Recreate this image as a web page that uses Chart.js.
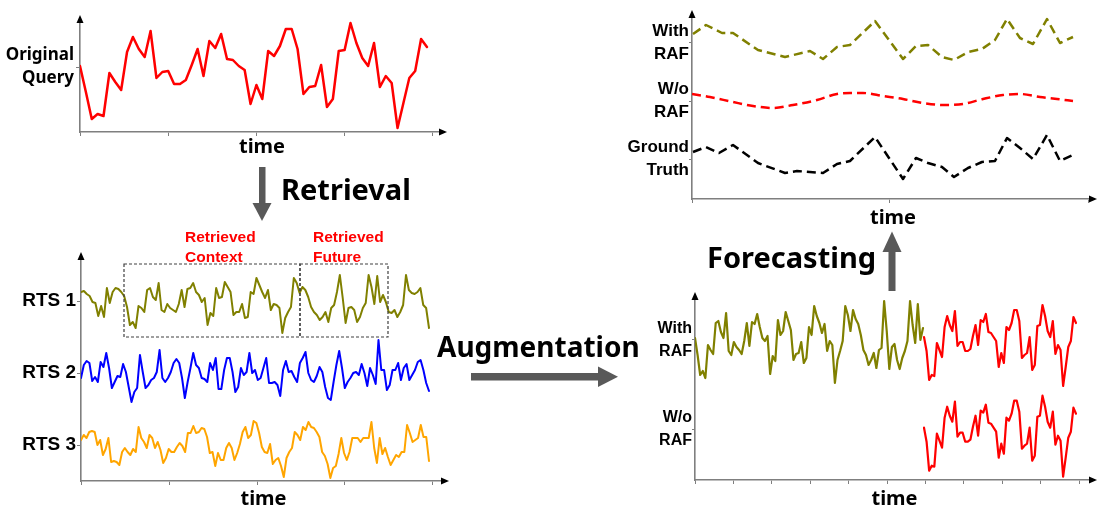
<!DOCTYPE html>
<html>
<head>
<meta charset="utf-8">
<script src="https://cdn.jsdelivr.net/npm/chart.js@4"></script>
<style>
body{margin:0;background:#fff;}
#wrap{position:relative;width:1098px;height:510px;overflow:hidden;font-family:"Noto Sans",sans-serif;}
canvas{position:absolute;}
svg{position:absolute;left:0;top:0;}
.big{position:absolute;font-weight:700;font-size:29px;line-height:29px;color:#000;white-space:nowrap;}
.red{position:absolute;font:700 15.5px "Liberation Sans",Arial,sans-serif;line-height:20px;color:#ff0000;white-space:nowrap;}
</style>
</head>
<body>
<div id="wrap">
  <canvas id="query" width="460" height="160" style="left:0;top:0"></canvas>
  <canvas id="rts" width="460" height="280" style="left:0;top:230px"></canvas>
  <canvas id="fcTop" width="498" height="230" style="left:600px;top:0"></canvas>
  <canvas id="fcBot" width="498" height="228" style="left:600px;top:282px"></canvas>

  <svg width="1098" height="510">
    <rect x="259" y="167" width="6.5" height="37" fill="#595959"/>
    <polygon points="252.5,203 271.5,203 262,221" fill="#595959"/>
    <rect x="471" y="373" width="128" height="7.5" fill="#595959"/>
    <polygon points="598,366.5 598,387 618,376.7" fill="#595959"/>
    <rect x="888.5" y="251" width="7" height="40" fill="#595959"/>
    <polygon points="882.5,252 901.5,252 892,231.5" fill="#595959"/>
  </svg>

  <div class="big" style="left:281px;top:174px">Retrieval</div>
  <div class="big" style="left:437px;top:332px;font-size:28px">Augmentation</div>
  <div class="big" style="left:707px;top:242px">Forecasting</div>
  <div class="red" style="left:185px;top:227px">Retrieved<br>Context</div>
  <div class="red" style="left:313px;top:227px">Retrieved<br>Future</div>
</div>

<script>
// ---- data (heights above the time axis) ----
const queryValues = [66, 40, 13, 18, 16, 59, 50, 42, 80, 95, 83, 75, 101, 54, 60, 61, 48, 48, 52, 67,
  83, 56, 91, 84, 98, 73, 72, 66, 62, 28, 47, 33, 81, 76, 86, 103, 103, 83, 38, 45,
  46, 67, 25, 33, 81, 82, 109, 89, 74, 66, 89, 45, 56, 49, 4, 29, 54, 61, 93, 85];

const rts1 = [189, 190, 187, 185, 179, 178, 165, 175, 164, 193, 178, 189, 193, 192, 189, 185, 174, 156, 159, 153,
  175, 173, 169, 191, 193, 184, 181, 198, 171, 169, 177, 173, 171, 169, 177, 191, 174, 192, 193, 198,
  189, 186, 179, 183, 156, 168, 165, 193, 183, 184, 199, 194, 189, 166, 169, 169, 177, 163, 164, 189, 187,
  203, 196, 189, 183, 191, 171, 177, 176, 173, 148, 163, 169, 174, 203, 198, 188, 194, 191, 184, 174,
  169, 166, 161, 164, 169, 159, 173, 176, 189, 206, 183, 158, 173, 174, 171, 159, 164, 173, 178, 206,
  194, 177, 205, 179, 186, 179, 169, 168, 171, 164, 169, 176, 206, 191, 188, 187, 189, 193, 176, 173, 153];
const rts2 = [103, 116, 120, 118, 100, 104, 99, 119, 114, 128, 113, 93, 99, 105, 104, 117, 109, 94, 79, 89,
  93, 126, 109, 93, 96, 101, 103, 109, 131, 103, 99, 103, 109, 118, 122, 118, 103, 83, 99, 113,
  128, 116, 113, 103, 102, 99, 118, 111, 123, 92, 92, 111, 123, 123, 109, 89, 94, 113, 106, 109, 128, 108,
  111, 101, 103, 113, 123, 98, 98, 99, 96, 85, 111, 120, 109, 110, 104, 99, 118, 123, 129, 108,
  101, 99, 105, 114, 109, 94, 83, 81, 99, 116, 130, 113, 93, 99, 103, 108, 109, 106, 117, 108,
  95, 113, 106, 97, 141, 111, 111, 91, 96, 111, 111, 118, 101, 113, 117, 101, 106, 111, 119, 121, 111, 98, 90];
const rts3 = [41, 46, 43, 49, 50, 49, 36, 41, 26, 32, 43, 19, 20, 19, 16, 29, 33, 29, 26, 32,
  29, 54, 43, 39, 33, 46, 43, 33, 39, 31, 18, 23, 32, 29, 29, 34, 38, 35, 29, 48,
  48, 55, 48, 49, 53, 52, 44, 28, 29, 15, 28, 21, 21, 33, 38, 33, 21, 28, 37, 49, 54, 43, 46, 60, 58,
  48, 34, 29, 28, 37, 17, 21, 23, 15, 4, 23, 29, 33, 49, 46, 41, 54, 51, 59, 54,
  53, 49, 44, 29, 25, 17, 3, 13, 15, 27, 43, 28, 21, 29, 43, 43, 43, 39, 43, 43,
  43, 59, 33, 18, 43, 27, 33, 24, 16, 21, 26, 24, 29, 29, 56, 48, 39, 41, 43, 56, 44, 44, 20];
// retrieved context / future windows: [t0, t1, low, high]
const retrievedBoxes = [[43, 219, 144, 217], [219, 307, 144, 217]];

const withRafT = [1, 14, 30, 41, 66, 93, 118, 131, 145, 158, 183, 211, 224, 236, 250, 262, 276, 290, 303, 315, 328, 341, 355, 368, 381];
const withRafV = [165, 174, 166, 166, 149, 142, 148, 140, 152, 154, 178, 140, 153, 154, 142, 139, 147, 150, 159, 180, 161, 155, 180, 156, 162];
const woRafT = [0, 18, 41, 61, 81, 101, 125, 145, 158, 171, 191, 211, 231, 251, 271, 291, 311, 328, 348, 365, 381];
const woRafV = [105, 102, 97, 93, 91, 94, 99, 105, 106, 106, 103, 100, 96, 94, 95, 100, 104, 105, 102, 100, 98];
const truthT = [1, 14, 27, 41, 66, 93, 105, 131, 145, 158, 183, 211, 224, 236, 250, 262, 276, 290, 303, 315, 328, 341, 355, 368, 381];
const truthV = [47, 52, 46, 54, 36, 26, 28, 26, 35, 38, 62, 20, 41, 36, 32, 22, 31, 37, 38, 61, 51, 40, 64, 38, 44];

const inputCtx = [142, 125, 105, 109, 102, 135, 130, 126, 157, 159, 148, 142, 167, 129, 125, 138, 133, 130, 126, 139,
  157, 134, 158, 156, 166, 153, 142, 139, 144, 106, 124, 119, 160, 145, 149, 168, 159, 150, 120, 126,
  127, 138, 117, 122, 153, 145, 174, 164, 157, 147, 156, 129, 139, 135, 97, 120, 129, 139, 174, 165,
  149, 170, 161, 156, 145, 130, 125, 115, 120, 127, 112, 130, 132, 179, 149, 111, 133, 136, 120, 111,
  122, 129, 139, 179, 155, 137, 176, 140, 152];
const forecast = [143, 129, 100, 105, 104, 137, 130, 123, 153, 164, 155, 149, 169, 134, 138, 138, 129, 129, 131, 144,
  155, 135, 160, 158, 166, 148, 147, 143, 139, 113, 127, 117, 153, 150, 157, 170, 170, 159, 122, 125,
  127, 143, 110, 115, 154, 155, 175, 164, 149, 143, 159, 126, 135, 130, 94, 113, 133, 139, 163, 157];

const queryLabels = [["Original", "Query"]];
const rtsLabels = ["RTS 1", "RTS 2", "RTS 3"];
const topLabels = [["With", "RAF"], ["W/o", "RAF"], ["Ground", "Truth"]];
const botLabels = [["With", "RAF"], ["W/o", "RAF"]];

// ---- helpers ----
const AXIS = "#7f7f7f";
const OLIVE = "#808000", RED = "#ff0000", BLUE = "#0000ff", ORANGE = "#ffa500";

function spread(vals, t0, t1){
  return vals.map((v, i) => ({x: t0 + (t1 - t0) * i / (vals.length - 1), y: v}));
}
function pair(ts, vals){
  return vals.map((v, i) => ({x: ts[i], y: v}));
}
function line(data, color, extra){
  return Object.assign({data, borderColor: color, borderWidth: 2, pointRadius: 0, fill: false,
    borderJoinStyle: "round", borderCapStyle: "round", tension: 0}, extra || {});
}

const arrowHeads = {
  id: "arrowHeads",
  afterDraw(chart){
    const {ctx, chartArea: {left, top, right, bottom}} = chart;
    ctx.save();
    ctx.fillStyle = "#000";
    ctx.beginPath(); ctx.moveTo(left, top - 3); ctx.lineTo(left - 3.5, top + 5); ctx.lineTo(left + 3.5, top + 5); ctx.fill();
    ctx.beginPath(); ctx.moveTo(right + 3, bottom); ctx.lineTo(right - 5, bottom - 3.5); ctx.lineTo(right - 5, bottom + 3.5); ctx.fill();
    ctx.restore();
  }
};

const windowBoxes = {
  id: "windowBoxes",
  afterDatasetsDraw(chart, args, opts){
    if (!opts.boxes) return;
    const {ctx, scales: {x, y}} = chart;
    ctx.save();
    ctx.setLineDash([3, 2]);
    ctx.strokeStyle = "#404040";
    ctx.lineWidth = 1.2;
    opts.boxes.forEach(b => {
      const x0 = x.getPixelForValue(b[0]), x1 = x.getPixelForValue(b[1]);
      const y0 = y.getPixelForValue(b[3]), y1 = y.getPixelForValue(b[2]);
      ctx.strokeRect(x0, y0, x1 - x0, y1 - y0);
    });
    ctx.restore();
  }
};

function axes(o){
  return {
    x: {
      type: "linear", min: 0, max: o.xMax,
      afterBuildTicks: s => { s.ticks = o.xTicks.map(v => ({value: v})); },
      afterFit: s => { s.height = o.xH; },
      ticks: {display: false},
      grid: {drawOnChartArea: false, drawTicks: true, tickLength: 4, color: AXIS, lineWidth: 1},
      border: {color: AXIS, width: 1.6},
      title: {display: true, text: "time", color: "#000",
        font: {family: "'Noto Sans'", size: 20, weight: "bold", lineHeight: 1.1},
        padding: {top: 0, bottom: o.titlePad}}
    },
    y: {
      type: "linear", min: 0, max: o.yMax,
      afterBuildTicks: s => { s.ticks = o.yTicks.map(v => ({value: v})); },
      afterFit: s => { s.width = o.yW; s.paddingTop = 0; s.paddingBottom = 0; },
      ticks: {callback: (v, i) => o.yLabels[i], font: o.yFont, color: "#000", padding: o.yPad, autoSkip: false},
      grid: {drawOnChartArea: false, drawTicks: true, tickLength: o.yTick, color: AXIS, lineWidth: 1},
      border: {color: AXIS, width: 1.6}
    }
  };
}

function makeChart(id, datasets, scales, padding, plugins, pluginOpts){
  return new Chart(document.getElementById(id), {
    type: "line",
    data: {datasets},
    options: {
      responsive: false, animation: false, devicePixelRatio: 1, events: [],
      layout: {padding},
      scales,
      plugins: Object.assign({legend: {display: false}, tooltip: {enabled: false}}, pluginOpts || {})
    },
    plugins
  });
}

// ---- original query ----
makeChart("query",
  [line(spread(queryValues, 0, 59), RED, {borderWidth: 2.5})],
  axes({xMax: 61.9, xTicks: [0, 15, 30, 45, 60], xH: 28, titlePad: 2,
        yMax: 114, yTicks: [65], yLabels: queryLabels, yW: 80, yTick: 4, yPad: 2,
        yFont: {family: "'Noto Sans'", size: 17, weight: "bold", lineHeight: 1.35}}),
  {left: 0, top: 18, right: 16, bottom: 0}, [arrowHeads]);

// ---- retrieved series ----
makeChart("rts",
  [line(spread(rts1, 0, 348), OLIVE), line(spread(rts2, 0, 348), BLUE), line(spread(rts3, 0, 348), ORANGE)],
  axes({xMax: 365, xTicks: [0, 88, 176, 263, 351], xH: 29, titlePad: 0,
        yMax: 226, yTicks: [36, 108, 180], yLabels: rtsLabels.slice().reverse(), yW: 81, yTick: 4, yPad: 1,
        yFont: {family: "'Liberation Sans'", size: 19, weight: "bold", lineHeight: 1.2}}),
  {left: 0, top: 25, right: 14, bottom: 0}, [windowBoxes, arrowHeads], {windowBoxes: {boxes: retrievedBoxes}});

// ---- forecast comparison ----
const dashed = {borderWidth: 2.5, borderDash: [9, 5], borderCapStyle: "butt"};
makeChart("fcTop",
  [line(pair(withRafT, withRafV), OLIVE, dashed),
   line(pair(woRafT, woRafV), RED, Object.assign({tension: 0.4, cubicInterpolationMode: "monotone"}, dashed)),
   line(pair(truthT, truthV), "#000", dashed)],
  axes({xMax: 402, xTicks: [0, 197, 396], xH: 31, titlePad: 1,
        yMax: 186, yTicks: [40, 98, 156], yLabels: topLabels.slice().reverse(), yW: 92, yTick: 3, yPad: 0,
        yFont: {family: "'Liberation Sans'", size: 17, weight: "bold", lineHeight: 1.35}}),
  {left: 0, top: 13, right: 4, bottom: 0}, [arrowHeads]);

// ---- forecasting input / output ----
const botScales = axes({xMax: 399, xTicks: [0, 38.4, 76.8, 115.2, 153.6, 192, 230.4, 268.8, 307.2, 345.6, 384], xH: 30, titlePad: 0,
        yMax: 185, yTicks: [51, 140], yLabels: botLabels.slice().reverse(), yW: 95, yTick: 3, yPad: 0,
        yFont: {family: "'Liberation Sans'", size: 16, weight: "bold", lineHeight: 1.4}});
botScales.yWo = {type: "linear", display: false, min: 90.7, max: 275.7};
makeChart("fcBot",
  [line(spread(inputCtx, 0, 228), OLIVE, {borderWidth: 2.2}),
   line(spread(forecast, 229, 381), RED, {borderWidth: 2.2}),
   line(spread(forecast, 229, 381), RED, {borderWidth: 2.2, yAxisID: "yWo"})],
  botScales,
  {left: 0, top: 13, right: 4, bottom: 0}, [arrowHeads]);
</script>
</body>
</html>
